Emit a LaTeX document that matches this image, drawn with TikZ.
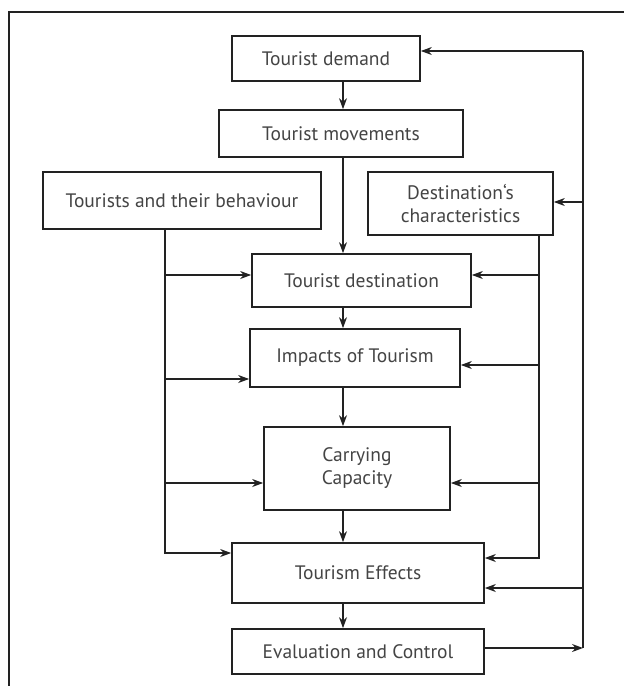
\documentclass[tikz,border=0pt]{standalone}
\usepackage{fontspec}
\setmainfont{PT Sans}
\usetikzlibrary{arrows.meta}
\definecolor{ink}{HTML}{222222}
\definecolor{txt}{HTML}{444444}
\begin{document}
\begin{tikzpicture}[x=1pt,y=-1pt,
  box/.style={draw=ink, line width=1.7pt, text=txt, inner sep=0pt, align=center,
    font=\fontsize{19.5}{23}\selectfont},
  ln/.style={draw=ink, line width=1.4pt},
  arr/.style={ln, -{Stealth[length=11pt,width=8pt]}}]
\useasboundingbox (0,0) rectangle (624,686);

% open frame (top and left edges)
\draw[ink, line width=2pt] (624,12) -- (9,12) -- (9,686);

% boxes
\node[box, minimum width=188pt, minimum height=45pt] (demand) at (326,58.5) {Tourist demand};
\node[box, minimum width=244pt, minimum height=47pt] (movements) at (341,133.5) {Tourist movements};
\node[box, minimum width=278pt, minimum height=57pt] (behaviour) at (182,200.5) {Tourists and their behaviour};
\node[box, minimum width=185pt, minimum height=63pt] (destchar) at (460.5,203.5) {Destination\symbol{96}s\\characteristics};
\node[box, minimum width=219pt, minimum height=53pt] (destination) at (361.5,280.5) {Tourist destination};
\node[box, minimum width=210pt, minimum height=58pt] (impacts) at (355,358) {Impacts of Tourism};
\node[box, minimum width=186pt, minimum height=83pt] (carrying) at (357,468.5) {Carrying\\Capacity};
\node[box, minimum width=252pt, minimum height=60pt] (effects) at (358,573) {Tourism Effects};
\node[box, minimum width=252pt, minimum height=45pt] (evaluation) at (358,651.5) {Evaluation and Control};

% column and trunk positions
\coordinate (cx) at (343,0);
\coordinate (lx) at (165,0);
\coordinate (rx) at (539,0);
\coordinate (fx) at (583,0);

% main vertical chain
\draw[arr] (cx |- demand.south) -- (cx |- movements.north);
\draw[arr] (cx |- movements.south) -- (cx |- destination.north);
\draw[arr] (cx |- destination.south) -- (cx |- impacts.north);
\draw[arr] (cx |- impacts.south) -- (cx |- carrying.north);
\draw[arr] (cx |- carrying.south) -- (cx |- effects.north);
\draw[arr] (cx |- effects.south) -- (cx |- evaluation.north);

% left trunk from the tourists' behaviour
\coordinate (l1) at (165,275);
\coordinate (l2) at (165,379);
\coordinate (l3) at (165,483);
\coordinate (l4) at (165,553);
\draw[arr] (lx |- behaviour.south) -- (l4) -- (effects.west |- l4);
\draw[arr] (l1) -- (destination.west |- l1);
\draw[arr] (l2) -- (impacts.west |- l2);
\draw[arr] (l3) -- (carrying.west |- l3);

% right trunk from the destination's characteristics
\coordinate (r1) at (539,275);
\coordinate (r2) at (539,365);
\coordinate (r3) at (539,483);
\coordinate (r4) at (539,558);
\draw[arr] (rx |- destchar.south) -- (r4) -- (effects.east |- r4);
\draw[arr] (r1) -- (destination.east |- r1);
\draw[arr] (r2) -- (impacts.east |- r2);
\draw[arr] (r3) -- (carrying.east |- r3);

% feedback loop from evaluation and control
\coordinate (f0) at (583,648);
\coordinate (f1) at (583,51);
\coordinate (f2) at (583,202);
\coordinate (f3) at (583,588);
\draw[arr] (evaluation.east |- f0) -- (f0);
\draw[ln] (f0) -- (f1);
\draw[arr] (f1) -- (demand.east |- f1);
\draw[arr] (f2) -- (destchar.east |- f2);
\draw[arr] (f3) -- (effects.east |- f3);
\end{tikzpicture}
\end{document}
